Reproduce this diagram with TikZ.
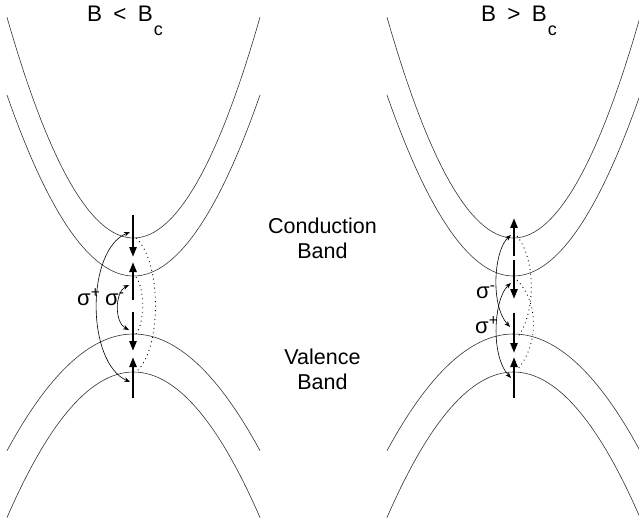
\documentclass[tikz,border=0pt]{standalone}
\usepackage{fontspec}
\setmainfont{Liberation Sans}
\usetikzlibrary{arrows.meta,positioning,calc}
\tikzset{
  band/.style  ={line width=0.6pt,draw=black!80},
  spin/.style  ={line width=2.4pt,-{Triangle[length=10pt,width=7pt]}},
  trans/.style ={line width=0.6pt,{Stealth[length=6pt,width=4.5pt]}-{Stealth[length=6pt,width=4.5pt]}},
  weak/.style  ={line width=0.9pt,dash pattern=on 0.9pt off 3.6pt},
  title/.style ={font=\fontsize{22.5}{26}\selectfont,anchor=base west,inner sep=0pt},
  blabel/.style={font=\fontsize{21.5}{25}\selectfont,align=center},
  pol/.style   ={font=\fontsize{22}{24}\selectfont,anchor=base west,inner sep=0pt}
}
\newcommand{\subc}{\hspace{1pt}\raisebox{-14pt}{\fontsize{18}{18}\selectfont c}}

\begin{document}
\begin{tikzpicture}[x=1pt,y=-1pt]
  \useasboundingbox (0,0) rectangle (639,529);

  % the four bands, same in both panels
  \foreach \cx in {133.5,513.5}{
    \draw[band] plot[domain=-126.5:126.5,samples=61] ({\cx+\x},{238-0.0138*\x*\x});
    \draw[band] plot[domain=-126.5:126.5,samples=61] ({\cx+\x},{276-0.0113*\x*\x});
    \draw[band] plot[domain=-126.5:126.5,samples=61] ({\cx+\x},{334+0.0073*\x*\x});
    \draw[band] plot[domain=-126.5:126.5,samples=61] ({\cx+\x},{372+0.0091*\x*\x});
  }

  \node[title] (tl) at (87,22) {B\enspace<\enspace B\subc};
  \node[title] (tr) at (481,22) {B\enspace>\enspace B\subc};
  \node[blabel] (cb) at (322.5,238) {Conduction\\Band};
  \node[blabel] (vb) at (322.5,369) {Valence\\Band};

  % left panel, B < Bc
  \coordinate (L1t) at (133,215); \coordinate (L1b) at (133,257);
  \coordinate (L2t) at (133,262); \coordinate (L2b) at (133,300);
  \coordinate (L3t) at (133,312); \coordinate (L3b) at (133,351);
  \coordinate (L4t) at (133,357); \coordinate (L4b) at (133,398);
  \draw[spin] (L1t) -- (L1b);
  \draw[spin] (L2b) -- (L2t);
  \draw[spin] (L3t) -- (L3b);
  \draw[spin] (L4b) -- (L4t);

  \coordinate (Lcu) at (130,232); \coordinate (Lvd) at (130,382);
  \coordinate (Lcd) at (129,285); \coordinate (Lvu) at (129,330);
  \draw[trans] (Lcu) .. controls (86,250) and (86,362) .. (Lvd);
  \draw[trans] (Lcd) .. controls (115,292) and (114,322) .. (Lvu);
  \coordinate (Ldo) at (136,238); \coordinate (Ldo') at (136,372);
  \coordinate (Ldi) at (136,277); \coordinate (Ldi') at (136,334);
  \draw[weak] (Ldo) .. controls +(26,24) and +(26,-22) .. (Ldo');
  \draw[weak] (Ldi) .. controls +(9,12) and +(9,-12) .. (Ldi');
  \node[pol] (spl) at (77,305) {σ\textsuperscript{+}};
  \node[pol] (sml) at (105,305) {σ\textsuperscript{-}};

  % right panel, B > Bc
  \coordinate (R1t) at (514,218); \coordinate (R1b) at (514,256);
  \coordinate (R2t) at (514,260); \coordinate (R2b) at (514,299);
  \coordinate (R3t) at (514,313); \coordinate (R3b) at (514,353);
  \coordinate (R4t) at (514,357); \coordinate (R4b) at (514,398);
  \draw[spin] (R1b) -- (R1t);
  \draw[spin] (R2t) -- (R2b);
  \draw[spin] (R3t) -- (R3b);
  \draw[spin] (R4b) -- (R4t);

  \coordinate (Rcu) at (511,235); \coordinate (Rvu) at (510,327);
  \coordinate (Rcd) at (511,283); \coordinate (Rvd) at (511,378);
  \draw[trans] (Rcu) .. controls (494,250) and (490,305) .. (Rvu);
  \draw[trans] (Rcd) .. controls (494,298) and (490,355) .. (Rvd);
  \coordinate (Rdo) at (517,236); \coordinate (Rdo') at (517,338);
  \coordinate (Rdi) at (517,280); \coordinate (Rdi') at (517,370);
  \draw[weak] (Rdo) .. controls +(20,25) and +(18,-22) .. (Rdo');
  \draw[weak] (Rdi) .. controls +(24,25) and +(20,-22) .. (Rdi');
  \node[pol] (smr) at (476,298) {σ\textsuperscript{-}};
  \node[pol] (spr) at (475,333) {σ\textsuperscript{+}};
\end{tikzpicture}
\end{document}
